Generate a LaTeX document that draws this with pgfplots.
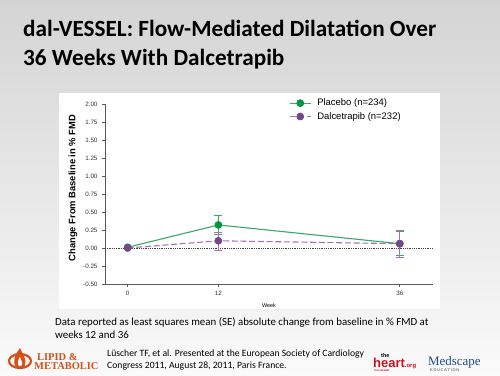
\documentclass[border=0pt]{standalone}
\usepackage{pgfplots}
\pgfplotsset{compat=1.18}
\usepackage{pgfplotstable}
\usepackage{fontspec}
\setmainfont{Carlito}
\newfontfamily\arial{Liberation Sans}
\newfontfamily\lserif{Liberation Serif}
\definecolor{pgreen}{RGB}{0,150,68}
\definecolor{pgreenl}{RGB}{55,170,100}
\definecolor{dpurp}{RGB}{120,70,140}
\definecolor{dpurpl}{RGB}{165,115,180}
\definecolor{axgray}{RGB}{90,90,90}
\definecolor{logoor}{RGB}{215,80,25}
\definecolor{heartred}{RGB}{200,20,30}
\definecolor{medblue}{RGB}{35,75,135}
\pgfplotstableread{
x y ep em
0 0.01 0 0
12 0.32 0.13 0.13
36 0.06 0.17 0.16
}\placebo
\pgfplotstableread{
x y ep em
0 0.00 0 0
12 0.10 0.12 0.14
36 0.06 0.18 0.19
}\dalce
\begin{document}
\begin{tikzpicture}[x=1bp,y=1bp]
\useasboundingbox (0,0) rectangle (500,375);
\shade[top color={rgb,255:red,212;green,212;blue,212}, bottom color={rgb,255:red,250;green,250;blue,250}] (0,0) rectangle (500,375);
\fill[white] (59,66) rectangle (440,282);
% title
\node[anchor=base west, inner sep=0, font=\fontsize{23.3}{27}\selectfont\bfseries] at (23,338.5) {dal-VESSEL: Flow-Mediated Dilatation Over};
\node[anchor=base west, inner sep=0, font=\fontsize{23.3}{27}\selectfont\bfseries] at (23,310) {36 Weeks With Dalcetrapib};
% footnote
\node[anchor=base west, inner sep=0, font=\fontsize{10.9}{13}\selectfont] at (55,50) {Data reported as least squares mean (SE) absolute change from baseline in \% FMD at};
\node[anchor=base west, inner sep=0, font=\fontsize{10.9}{13}\selectfont] at (55,36.5) {weeks 12 and 36};
% citation
\node[anchor=base west, inner sep=0, font=\fontsize{9.7}{11}\selectfont] at (107,18.5) {Lüscher TF, et al. Presented at the European Society of Cardiology};
\node[anchor=base west, inner sep=0, font=\fontsize{9.7}{11}\selectfont] at (107,6.8) {Congress 2011, August 28, 2011, Paris France.};
% lipid logo
\draw[logoor, line width=2.2] (20,14) ellipse (11 and 7);
\fill[logoor] (20,27) .. controls (15,20) and (12,14) .. (16,8) .. controls (19,5) and (24,6) .. (25,10) .. controls (27,16) and (23,20) .. (20,27) -- cycle;
\fill[white] (20,18) .. controls (18,15) and (17,12) .. (19,9) .. controls (21,8) and (23,10) .. (22,13) -- cycle;
\node[anchor=base west, inner sep=0, text=logoor, font=\lserif\bfseries\fontsize{10.5}{12}\selectfont] at (37,15) {LIPID \&};
\node[anchor=base west, inner sep=0, text=logoor, font=\lserif\bfseries\fontsize{10.5}{12}\selectfont] at (34,5.5) {METABOLIC};
% heart logo
\node[anchor=base west, inner sep=0, font=\arial\bfseries\fontsize{5.5}{6}\selectfont] at (381,18) {the};
\node[anchor=base west, inner sep=0, text=heartred, font=\arial\bfseries\fontsize{13}{14}\selectfont] at (373,7.5) {heart\textcolor{heartred}{\fontsize{6}{7}\selectfont.org}};
\node[anchor=base west, inner sep=0, text=heartred, font=\arial\bfseries\fontsize{2.5}{3}\selectfont] at (374,4) {from WebMD};
% medscape logo
\node[anchor=base west, inner sep=0, text=medblue, font=\lserif\fontsize{13}{14}\selectfont] at (428,9.5) {Medscape};
\node[anchor=base west, inner sep=0, text=gray, font=\arial\bfseries\fontsize{4}{5}\selectfont] at (430,3.5) {E\,D\,U\,C\,A\,T\,I\,O\,N};
\begin{axis}[
  at={(105bp,91bp)}, anchor=south west,
  scale only axis, width=328bp, height=180bp,
  xmin=-3, xmax=40.4, ymin=-0.5, ymax=2.0,
  axis lines=left, axis line style={axgray, line width=0.9bp, -},
  xtick={0,12,36}, xticklabels={0,12,36},
  ytick={-0.5,-0.25,0,0.25,0.5,0.75,1.0,1.25,1.5,1.75,2.0},
  yticklabels={-0.50,-0.25,0.00,0.25,0.50,0.75,1.00,1.25,1.50,1.75,2.00},
  tick style={axgray, line width=0.8bp},
  tick align=outside, major tick length=3bp,
  tick label style={font=\arial\fontsize{6.3}{7}\selectfont, text=black!80},
  yticklabel style={xshift=-1bp},
  xticklabel style={yshift=-1bp},
  ylabel={Change From Baseline in \% FMD},
  ylabel style={font=\arial\bfseries\fontsize{9.4}{10}\selectfont, at={(axis description cs:-0.098,0.533)}, anchor=center, rotate=0},
  xlabel={Week},
  xlabel style={font=\arial\fontsize{5.5}{6}\selectfont, at={(axis description cs:0.5,-0.122)}, anchor=center},
  clip=false,
  legend style={draw=none, fill=none, at={(axis description cs:0.561,1.04)}, anchor=north west, font=\arial\fontsize{9.5}{10}\selectfont, row sep=1bp, inner sep=0pt, /tikz/every odd column/.append style={column sep=4bp}},
  legend cell align=left,
  legend image code/.code={\draw[mark repeat=2,mark phase=2,#1] plot coordinates {(0bp,0bp)(10.5bp,0bp)(21bp,0bp)};},
]
\draw[black!75, densely dotted, line width=0.8bp] (axis cs:-3,0) -- (axis cs:40.4,0);
\addplot[pgreenl, line width=1.1bp, mark=*, mark size=3.3bp, mark options={solid, fill=pgreen, draw=pgreen},
  error bars/.cd, y dir=both, y explicit, error bar style={pgreenl, line width=1bp, solid}, error mark options={rotate=90, mark size=4bp, pgreenl, line width=1bp}]
  table[x=x, y=y, y error plus=ep, y error minus=em] {\placebo};
\addlegendentry{Placebo (n=234)}
\addplot[dpurpl, line width=1.1bp, dash pattern=on 6bp off 2.7bp, mark=*, mark size=3.3bp, mark options={solid, fill=dpurp, draw=dpurp},
  error bars/.cd, y dir=both, y explicit, error bar style={dpurpl, line width=1bp, solid}, error mark options={rotate=90, mark size=4bp, dpurpl, line width=1bp, solid}]
  table[x=x, y=y, y error plus=ep, y error minus=em] {\dalce};
\addlegendentry{Dalcetrapib (n=232)}
\end{axis}
\end{tikzpicture}
\end{document}
